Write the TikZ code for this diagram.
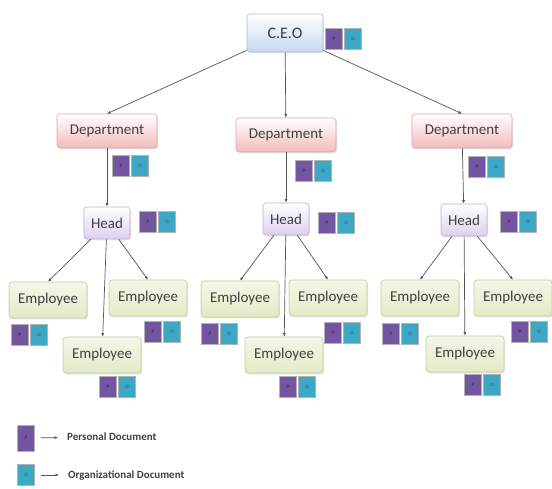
\documentclass[tikz,border=0pt]{standalone}
\usepackage{fontspec}
\setmainfont{Carlito}
\usetikzlibrary{positioning,arrows.meta,shadows}
\definecolor{bordeceo}{HTML}{A9BCD6}
\definecolor{fondoceo}{HTML}{C6D8EF}
\definecolor{bordedep}{HTML}{E3A3A3}
\definecolor{fondodep}{HTML}{F2BBBB}
\definecolor{bordejefe}{HTML}{BDB0D6}
\definecolor{fondojefe}{HTML}{DCD0EE}
\definecolor{bordeemp}{HTML}{C2CFA0}
\definecolor{fondoemp}{HTML}{E2EBC6}
\definecolor{morado}{HTML}{7256A2}
\definecolor{turquesa}{HTML}{3DA8C5}
\definecolor{linea}{HTML}{555555}
\begin{document}
\begin{tikzpicture}[x=1pt, y=-1pt,
    caja/.style={rectangle, rounded corners=3pt, draw, line width=0.6pt,
      font=\fontsize{15}{17}\selectfont, text=black!75, inner sep=1pt,
      drop shadow={opacity=0.2, shadow xshift=1pt, shadow yshift=-1.5pt}},
    director/.style={caja, draw=bordeceo, top color=white, bottom color=fondoceo,
      minimum width=76pt, minimum height=38pt, font=\fontsize{16}{18}\selectfont},
    depto/.style={caja, draw=bordedep, top color=white, bottom color=fondodep,
      minimum width=100pt, minimum height=34pt},
    jefe/.style={caja, draw=bordejefe, top color=white, bottom color=fondojefe,
      minimum width=46pt, minimum height=32pt},
    empleado/.style={caja, draw=bordeemp, top color=white!60!fondoemp, bottom color=fondoemp,
      minimum width=78pt, minimum height=36pt},
    doc/.style={rectangle, minimum width=17pt, minimum height=21pt, inner sep=0pt,
      draw=white!70!black, line width=0.5pt, font=\fontsize{5}{5}\selectfont},
    docp/.style={doc, fill=morado, text=black!60!morado},
    doco/.style={doc, fill=turquesa, text=black!50!turquesa},
    enlace/.style={draw=linea, line width=0.7pt, -{Latex[length=3.5pt, width=3pt]}},
    leyenda/.style={font=\fontsize{11}{13}\selectfont\bfseries, text=black!75, inner sep=0pt}]
  \useasboundingbox (0,0) rectangle (552,489);
  % cajas
  \node[director] (ceo) at (285,33)  {C.E.O};
  \node[depto]    (dl)  at (107,131) {Department};
  \node[depto]    (dm)  at (286,135) {Department};
  \node[depto]    (dr)  at (462,131) {Department};
  \node[jefe]     (hl)  at (107,223) {Head};
  \node[jefe]     (hm)  at (286,219) {Head};
  \node[jefe]     (hr)  at (464,220) {Head};
  \node[empleado] (el1) at (48,300)  {Employee};
  \node[empleado] (el2) at (102,355) {Employee};
  \node[empleado] (el3) at (148,298) {Employee};
  \node[empleado] (em1) at (240,299) {Employee};
  \node[empleado] (em2) at (284,355) {Employee};
  \node[empleado] (em3) at (328,298) {Employee};
  \node[empleado] (er1) at (420,298) {Employee};
  \node[empleado] (er2) at (465,354) {Employee};
  \node[empleado] (er3) at (513,298) {Employee};
  % documentos
  \foreach \n/\x/\y in {ceo/334/39, dl/121/166, dm/304/171, dr/477/167,
      hl/148/222, hm/327/223, hr/509/222,
      el1/20/335, el2/108/387, el3/153/332,
      em1/210/334, em2/288/387, em3/333/333,
      er1/391/334, er2/473/385, er3/520/332}{
    \node[docp] (\n-p) at (\x,\y) {P};
    \node[doco, right=1.5pt of \n-p] (\n-o) {O};
  }
  % enlaces
  \draw[enlace] (ceo) -- (dl.north);
  \draw[enlace] (ceo) -- (dm);
  \draw[enlace] (ceo) -- (dr.north);
  \draw[enlace] (dl) -- (hl);
  \draw[enlace] (dm) -- (hm);
  \draw[enlace] (dr) -- (hr);
  \draw[enlace] (hl) -- (el1.north);
  \draw[enlace] (hl) -- (el2);
  \draw[enlace] (hl) -- (el3.north);
  \draw[enlace] (hm) -- (em1.north);
  \draw[enlace] (hm) -- (em2);
  \draw[enlace] (hm) -- (em3.north);
  \draw[enlace] (hr) -- (er1.north);
  \draw[enlace] (hr) -- (er2);
  \draw[enlace] (hr) -- (er3.north);
  % leyenda
  \node[docp, minimum height=26pt] (lp) at (26,438) {P};
  \node[doco] (lo) at (26,475) {O};
  \node[leyenda, anchor=west] (lptxt) at (67,437) {Personal Document};
  \node[leyenda, anchor=west] (lotxt) at (68,476) {Organizational Document};
  \draw[enlace, shorten <=6pt, shorten >=9pt] (lp) -- (lptxt);
  \draw[enlace, shorten <=6pt, shorten >=9pt] (lo) -- (lo -| lotxt.west);
\end{tikzpicture}
\end{document}
